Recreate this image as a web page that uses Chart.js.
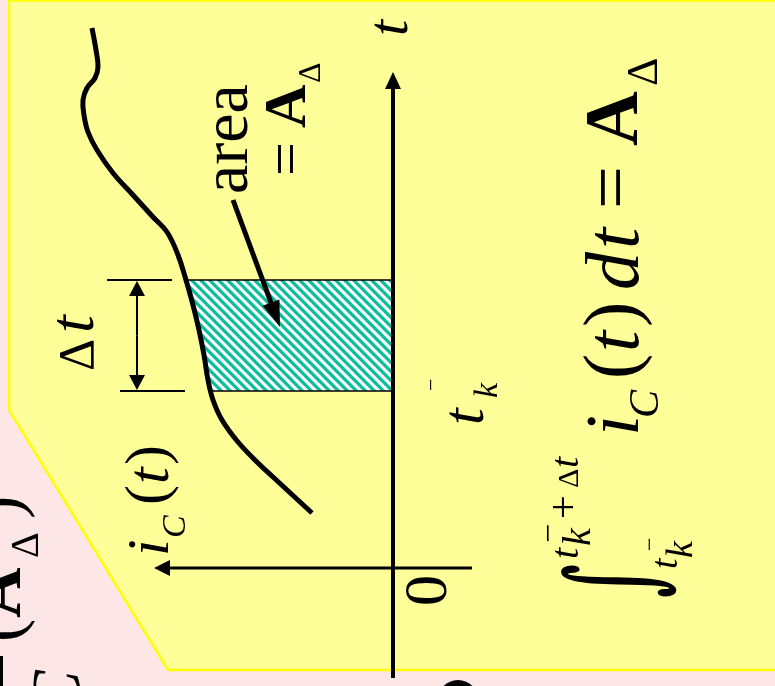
<!DOCTYPE html>
<html>
<head>
<meta charset="utf-8">
<script src="https://cdn.jsdelivr.net/npm/chart.js@4.4.1/dist/chart.umd.min.js"></script>
<style>
html,body{margin:0;padding:0;background:#FCE6E6;overflow:hidden;}
canvas{display:block;}
</style>
</head>
<body>
<canvas id="c" width="775" height="686"></canvas>
<script>
// Capacitor current i_C(t): samples along the curve, t from late to early
const tSamples = [5.40, 5.18, 5.01, 4.90, 4.80, 4.68, 4.53, 4.36, 4.18, 3.95, 3.73, 3.51, 3.36,
                  3.13, 2.88, 2.63, 2.38, 2.13, 1.88, 1.68, 1.48, 1.26, 1.05, 0.91, 0.55];
const iSamples = [3.01, 2.97, 2.95, 2.98, 3.06, 3.10, 3.09, 3.05, 2.96, 2.80, 2.60, 2.40, 2.26,
                  2.15, 2.07, 2.00, 1.94, 1.89, 1.85, 1.80, 1.71, 1.55, 1.35, 1.20, 0.81];

// Integration window [t_k^-, t_k^- + Δt]
const tkMinus = 1.77;
const deltaT = 1.11;

// Axis tick label at the origin
const originLabel = ['0'];

const SERIF = '"Liberation Serif", "Times New Roman", serif';
const INK = '#000000';

function hatchPattern() {
  const p = 9;
  const c = document.createElement('canvas');
  c.width = p; c.height = p;
  const g = c.getContext('2d');
  const img = g.createImageData(p, p);
  for (let y = 0; y < p; y++) {
    for (let x = 0; x < p; x++) {
      const k = ((x - y) % p + p) % p;
      const a = k < 4 ? 1 : (k === 4 || k === 8 ? 0.35 : 0);
      const o = (y * p + x) * 4;
      img.data[o] = Math.round(255 * (1 - a) + 16 * a);
      img.data[o + 1] = Math.round(255 * (1 - a) + 190 * a);
      img.data[o + 2] = Math.round(255 * (1 - a) + 158 * a);
      img.data[o + 3] = 255;
    }
  }
  g.putImageData(img, 0, 0);
  return c;
}

// text running upward: (X, Y) is the start of the baseline
function vtext(ctx, str, X, Y, font, sy) {
  ctx.save();
  ctx.translate(X, Y);
  ctx.rotate(-Math.PI / 2);
  if (sy) ctx.scale(1, sy);
  ctx.font = font;
  ctx.fillStyle = INK;
  ctx.textBaseline = 'alphabetic';
  ctx.textAlign = 'left';
  ctx.fillText(str, 0, 0);
  ctx.restore();
}

// upward text stretched so its ink fills the box x1..x2, y1..y2
function vfit(ctx, str, font, x1, x2, y1, y2) {
  ctx.save();
  ctx.font = font;
  const m = ctx.measureText(str);
  const w = m.actualBoundingBoxLeft + m.actualBoundingBoxRight;
  const h = m.actualBoundingBoxAscent + m.actualBoundingBoxDescent;
  const sx = (y2 - y1) / w, sy = (x2 - x1) / h;
  ctx.translate(x1 + m.actualBoundingBoxAscent * sy, y2 - m.actualBoundingBoxLeft * sx);
  ctx.rotate(-Math.PI / 2);
  ctx.scale(sx, sy);
  ctx.fillStyle = INK;
  ctx.textBaseline = 'alphabetic';
  ctx.textAlign = 'left';
  ctx.fillText(str, 0, 0);
  ctx.restore();
}

function arrow(ctx, x1, y1, x2, y2, len, half, width) {
  const ang = Math.atan2(y2 - y1, x2 - x1);
  const bx = x2 - Math.cos(ang) * len, by = y2 - Math.sin(ang) * len;
  ctx.save();
  ctx.strokeStyle = INK; ctx.fillStyle = INK;
  ctx.lineWidth = width; ctx.lineCap = 'butt';
  ctx.beginPath(); ctx.moveTo(x1, y1); ctx.lineTo(bx + Math.cos(ang) * 2, by + Math.sin(ang) * 2); ctx.stroke();
  ctx.beginPath();
  ctx.moveTo(x2, y2);
  ctx.lineTo(bx - Math.sin(ang) * half, by + Math.cos(ang) * half);
  ctx.lineTo(bx + Math.sin(ang) * half, by - Math.cos(ang) * half);
  ctx.closePath(); ctx.fill();
  ctx.restore();
}

function seg(ctx, x1, y1, x2, y2, width) {
  ctx.save();
  ctx.strokeStyle = INK; ctx.lineWidth = width;
  ctx.beginPath(); ctx.moveTo(x1, y1); ctx.lineTo(x2, y2); ctx.stroke();
  ctx.restore();
}

// Slide panel behind the diagram
const panelPlugin = {
  id: 'panel',
  beforeDraw(chart) {
    const ctx = chart.ctx;
    ctx.save();
    ctx.fillStyle = '#FCE6E6';
    ctx.fillRect(0, 0, chart.width, chart.height);
    ctx.beginPath();
    ctx.moveTo(9, 0.5);
    ctx.lineTo(800, 0.5);
    ctx.lineTo(800, 670);
    ctx.lineTo(168, 670);
    ctx.lineTo(9, 410);
    ctx.closePath();
    ctx.fillStyle = '#FFFF99';
    ctx.fill();
    ctx.strokeStyle = '#FFFF00';
    ctx.lineWidth = 2.5;
    ctx.stroke();
    // partial glyph of the next line, below the panel
    ctx.fillStyle = INK;
    ctx.beginPath();
    ctx.ellipse(458, 702, 21, 22, 0, 0, Math.PI * 2);
    ctx.fill();
    ctx.restore();
  }
};

// Hatched area A_Δ under the curve between t_k^- and t_k^- + Δt
const hatchPlugin = {
  id: 'hatch',
  beforeDatasetsDraw(chart) {
    const ctx = chart.ctx;
    const xs = chart.scales.x, ys = chart.scales.y;
    const meta = chart.getDatasetMeta(0);
    const line = meta.dataset;
    const pts = meta.data;
    const x0 = xs.getPixelForValue(0);
    const yTop = ys.getPixelForValue(tkMinus + deltaT);
    const yBot = ys.getPixelForValue(tkMinus);
    ctx.save();
    ctx.beginPath();
    if (line && typeof line.path === 'function') {
      if (line.updateControlPoints) line.updateControlPoints(chart.chartArea, 'x');
      line.path(ctx);
    } else {
      pts.forEach((p, k) => k ? ctx.lineTo(p.x, p.y) : ctx.moveTo(p.x, p.y));
    }
    ctx.lineTo(x0, pts[pts.length - 1].y);
    ctx.lineTo(x0, pts[0].y);
    ctx.closePath();
    ctx.clip();
    const xFar = xs.getPixelForValue(4);
    ctx.fillStyle = ctx.createPattern(hatchPattern(), 'repeat');
    ctx.fillRect(xFar, yTop, x0 - xFar, yBot - yTop);
    seg(ctx, xFar, yTop, x0, yTop, 1.6);
    seg(ctx, xFar, yBot, x0, yBot, 1.6);
    ctx.restore();
  }
};

// Axes, dimension marks, pointer arrow and all labels
const annotatePlugin = {
  id: 'annotate',
  afterDatasetsDraw(chart) {
    const ctx = chart.ctx;
    const xs = chart.scales.x, ys = chart.scales.y;
    const X = v => xs.getPixelForValue(v);
    const Y = v => ys.getPixelForValue(v);

    // t axis (i_C = 0) and i_C axis (t = 0)
    arrow(ctx, X(0), Y(-1.10), X(0), Y(4.96), 17, 8, 4);
    arrow(ctx, X(-0.79), Y(0), X(2.39), Y(0), 16, 8, 3);

    // Δt dimension
    const yA = Y(tkMinus + deltaT), yB = Y(tkMinus);
    seg(ctx, X(2.86), yA, X(2.21), yA, 2);
    seg(ctx, X(2.73), yB, X(2.08), yB, 2);
    arrow(ctx, X(2.56), (yA + yB) / 2, X(2.56), yA + 1, 15, 8, 2);
    arrow(ctx, X(2.56), (yA + yB) / 2, X(2.56), yB - 1, 15, 8, 2);

    // pointer from the "area" label into the hatched region
    arrow(ctx, X(1.60), Y(3.68), X(1.13), Y(2.41), 26, 9, 5);

    const f = (s, st) => (st || '') + ' ' + s + 'px ' + SERIF;

    // axis labels
    vtext(ctx, 't', X(-0.14), Y(5.32), f(58, 'italic'));
    vtext(ctx, originLabel[0], X(-0.53), Y(-0.38), f(62));
    vtext(ctx, 'i', 168, 556, f(60, 'italic'));
    vtext(ctx, 'C', 185, 538, f(34, 'italic'));
    vtext(ctx, '(', 166, 505, f(60));
    vtext(ctx, 't', 168, 484, f(60, 'italic'));
    vtext(ctx, ')', 166, 465, f(60));

    // t_k^- on the t axis
    const tk = Y(tkMinus);
    vtext(ctx, 't', X(-0.90), tk + 34, f(60, 'italic'));
    vtext(ctx, 'k', X(-1.04), tk + 7, f(34, 'italic'));
    vtext(ctx, '\u2212', X(-0.45), tk, f(22));

    // Δt
    vtext(ctx, '\u0394', 93, 371, f(50));
    vtext(ctx, 't', 93, 333, f(64, 'italic'));

    // area = A_Δ
    vtext(ctx, 'area', 247, 194, f(66));
    vtext(ctx, '=', 305, 176, f(60));
    vtext(ctx, 'A', 305, 128, f(60, 'bold'));
    vtext(ctx, '\u0394', 320, 83, f(32));

    // ∫ i_C(t) dt = A_Δ
    vfit(ctx, '\u222B', 'bold 110px "DejaVu Serif", serif', 560, 677, 565, 597);
    vtext(ctx, 't', 578, 559, f(40, 'italic'));
    vtext(ctx, 'k', 590, 546, f(40, 'italic'));
    vtext(ctx, '\u2212', 559, 543, f(34));
    vtext(ctx, '+', 577, 519, f(42));
    vtext(ctx, '\u0394', 578, 488, f(30));
    vtext(ctx, 't', 578, 468, f(40, 'italic'));
    vtext(ctx, 't', 677, 569, f(38, 'italic'));
    vtext(ctx, 'k', 692, 558, f(38, 'italic'));
    vtext(ctx, '\u2212', 657, 551, f(24));
    vtext(ctx, 'i', 638, 436, f(76, 'italic'));
    vtext(ctx, 'C', 658, 418, f(42, 'italic'));
    vtext(ctx, '(', 636, 379, f(76));
    vtext(ctx, 't', 638, 352, f(76, 'italic'));
    vtext(ctx, ')', 636, 327, f(76));
    vtext(ctx, 'd', 638, 290, f(76, 'italic'));
    vtext(ctx, 't', 638, 249, f(76, 'italic'));
    vtext(ctx, '=', 636, 209, f(76));
    vtext(ctx, 'A', 637, 146, f(76, 'bold'));
    vtext(ctx, '\u0394', 657, 86, f(44));

    // continuation of the neighbouring expression at the lower left
    vtext(ctx, '(', 20, 642, f(70));
    vtext(ctx, 'A', 20, 618, f(70, 'bold'));
    vtext(ctx, '\u0394', 38, 558, f(40));
    vtext(ctx, ')', 20, 519, f(70));
    ctx.save();
    ctx.fillStyle = INK;
    ctx.fillRect(-2, 656, 5, 40);
    ctx.restore();
    vtext(ctx, 'C', 80, 717, f(70, 'italic'));
  }
};

const chart = new Chart(document.getElementById('c'), {
  type: 'scatter',
  data: {
    datasets: [{
      label: 'i_C(t)',
      data: tSamples.map((t, k) => ({ x: iSamples[k], y: t })),
      showLine: true,
      borderColor: INK,
      borderWidth: 5,
      pointRadius: 0,
      pointHoverRadius: 0,
      tension: 0.4,
      fill: false
    }]
  },
  options: {
    responsive: false,
    animation: false,
    devicePixelRatio: 1,
    layout: { padding: 0 },
    events: [],
    plugins: { legend: { display: false }, tooltip: { enabled: false }, title: { display: false } },
    scales: {
      x: { type: 'linear', min: -3.82, max: 3.93, reverse: true, display: false },
      y: { type: 'linear', min: -1.18, max: 5.68, display: false }
    }
  },
  plugins: [panelPlugin, hatchPlugin, annotatePlugin]
});
</script>
</body>
</html>
